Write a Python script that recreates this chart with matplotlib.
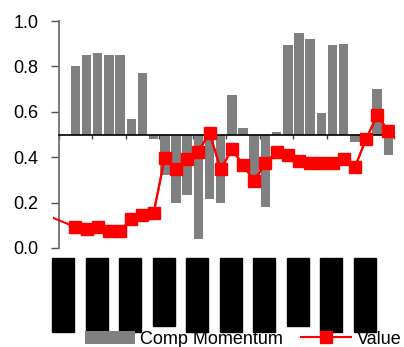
import matplotlib
matplotlib.use("Agg")
import matplotlib.pyplot as plt
from matplotlib.patches import Rectangle

# monthly bars, quarterly ticks
bar_x = [i + 1.5 for i in range(29)]
comp_momentum = [0.80, 0.85, 0.86, 0.85, 0.85, 0.57, 0.77, 0.48, 0.32, 0.20,
                 0.235, 0.04, 0.215, 0.20, 0.675, 0.53, 0.27, 0.18, 0.51, 0.895,
                 0.945, 0.92, 0.595, 0.895, 0.90, 0.465, 0.48, 0.70, 0.41]

value_x = [-0.5] + bar_x
value = [0.133, 0.092, 0.084, 0.092, 0.075, 0.075, 0.128, 0.145, 0.154, 0.398,
         0.347, 0.391, 0.425, 0.507, 0.347, 0.435, 0.365, 0.295, 0.373, 0.425,
         0.408, 0.384, 0.373, 0.373, 0.373, 0.393, 0.356, 0.48, 0.585, 0.515]

x_ticks = list(range(0, 31, 3))
y_ticks = [0.0, 0.2, 0.4, 0.6, 0.8, 1.0]
# tick labels render as solid blocks; True = shorter block
label_short = [False, False, False, True, False, False, False, True, False, False]

narrow = ["Liberation Sans Narrow", "Liberation Sans", "DejaVu Sans"]
sans = ["Liberation Sans", "DejaVu Sans"]

fig = plt.figure(figsize=(4.04, 3.47), dpi=100)
ax = fig.add_axes([53 / 404, 99 / 347, 341 / 404, 227 / 347])

bars = ax.bar(bar_x, [v - 0.5 for v in comp_momentum], bottom=0.5, width=0.85,
              color="#808080", zorder=2, label="Comp Momentum")
ax.plot(value_x, value, color="#ff0000", lw=1.5, zorder=4)
line, = ax.plot(bar_x, value[1:], color="#ff0000", lw=1.5, marker="s", ms=8.5,
                zorder=5, label="Value")

ax.set_xlim(-0.5, 30)
ax.set_ylim(0, 1)

for s in ["top", "right"]:
    ax.spines[s].set_visible(False)
ax.spines["left"].set_position(("data", 0))
ax.spines["left"].set_color("#707070")
ax.spines["left"].set_linewidth(1.3)
ax.spines["bottom"].set_position(("data", 0.5))
ax.spines["bottom"].set_bounds(0, 30)
ax.spines["bottom"].set_color("black")
ax.spines["bottom"].set_linewidth(1.2)
ax.spines["bottom"].set_zorder(3)

ax.set_xticks(x_ticks)
ax.set_xticklabels([])
ax.tick_params(axis="x", direction="out", length=3, width=1, color="#404040")
ax.set_yticks(y_ticks)
ax.set_yticklabels([f"{t:.1f}" for t in y_ticks], family=narrow, fontsize=13)
ax.tick_params(axis="y", direction="out", length=5.5, width=1, color="#505050", pad=9)

# blocked-out date labels under the chart
for t, short in zip(x_ticks[:-1], label_short):
    bottom = -0.344 if short else -0.370
    ax.add_patch(Rectangle((t - 0.58, bottom), 1.97, -0.044 - bottom,
                           color="black", clip_on=False))

ax.legend(handles=[bars, line], loc="center left",
          bbox_to_anchor=(85 / 404, 8 / 347),
          bbox_transform=fig.transFigure, ncol=2, frameon=False,
          handlelength=2.78, handletextpad=0.28, columnspacing=1.0,
          borderpad=0, borderaxespad=0, prop={"family": sans, "size": 13})

fig.savefig("out.png", dpi=100)
